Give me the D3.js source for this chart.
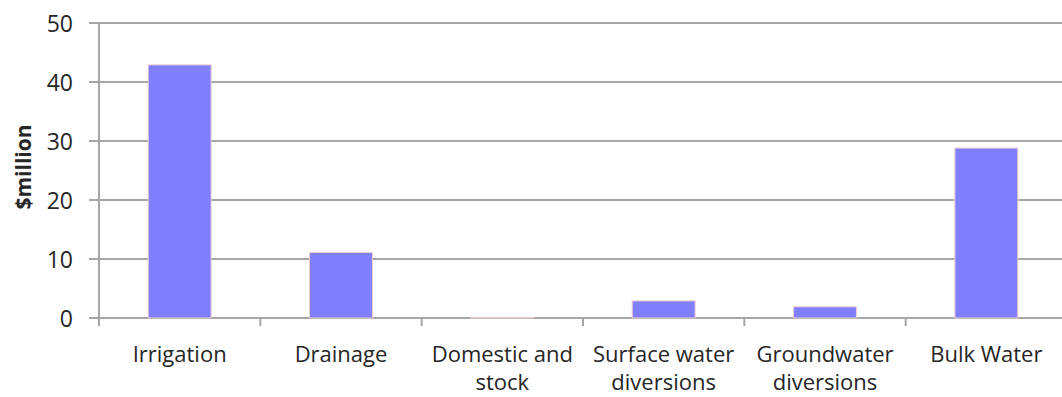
<!DOCTYPE html>
<html>
<head>
<meta charset="utf-8">
<script src="https://cdn.jsdelivr.net/npm/d3@7"></script>
<style>
  html, body { margin: 0; padding: 0; background: #fff; }
  svg { display: block; }
  text { font-family: "Open Sans", sans-serif; fill: #262626; }
</style>
</head>
<body>
<svg id="chart" width="1062" height="397"></svg>
<script>
// Spending by category ($million)
const categories = [
  ["Irrigation"],
  ["Drainage"],
  ["Domestic and", "stock"],
  ["Surface water", "diversions"],
  ["Groundwater", "diversions"],
  ["Bulk Water"]
];
const values = [42.9, 11.1, 0.1, 2.9, 1.9, 28.8];
const yTicks = [0, 10, 20, 30, 40, 50];
const yTitle = "$million";

const svg = d3.select("#chart");
const keys = categories.map((c, i) => i);

const x = d3.scaleBand()
  .domain(keys)
  .range([99, 1067])
  .paddingInner(0.61)
  .paddingOuter(0.305);

const y = d3.scaleLinear().domain([0, 50]).range([318, 23]);

const gap = x.step() * x.paddingInner() / 2;

// horizontal gridlines with left tick stubs
svg.append("g")
  .selectAll("line")
  .data(yTicks)
  .join("line")
  .attr("x1", 89).attr("x2", 1062)
  .attr("y1", d => y(d)).attr("y2", d => y(d))
  .attr("stroke", "#a6a6a6")
  .attr("stroke-width", 2);

// y tick labels
const yAxis = d3.axisLeft(y).tickValues(yTicks).tickSize(0).tickPadding(0);
const gy = svg.append("g").attr("transform", "translate(73,0)").call(yAxis);
gy.select(".domain").remove();
gy.selectAll("text")
  .style("font-family", "'Open Sans', sans-serif")
  .style("font-size", "23px")
  .attr("fill", "#262626")
  .attr("dy", "0.36em");

// bars
svg.append("g")
  .selectAll("rect")
  .data(values)
  .join("rect")
  .attr("x", (d, i) => x(i))
  .attr("width", x.bandwidth())
  .attr("y", d => y(d))
  .attr("height", d => y(0) - y(d))
  .attr("fill", "#8080ff")
  .attr("stroke", "#f2cccc")
  .attr("stroke-width", 1);

// vertical axis line
svg.append("line")
  .attr("x1", 99).attr("x2", 99)
  .attr("y1", y(50) - 1).attr("y2", 326)
  .attr("stroke", "#a6a6a6").attr("stroke-width", 2);

// category boundary ticks below the baseline
const boundary = i => x(i - 1) + x.bandwidth() + gap;
svg.append("g")
  .selectAll("line")
  .data(keys.slice(1).concat([keys.length]))
  .join("line")
  .attr("x1", boundary)
  .attr("x2", boundary)
  .attr("y1", y(0)).attr("y2", 326)
  .attr("stroke", "#a6a6a6").attr("stroke-width", 2);

// category labels
const lab = svg.append("g")
  .selectAll("text")
  .data(categories)
  .join("text")
  .attr("x", (d, i) => x(i) + x.bandwidth() / 2)
  .attr("y", 362)
  .attr("text-anchor", "middle")
  .style("font-size", "22px");
lab.selectAll("tspan")
  .data(d => d)
  .join("tspan")
  .attr("x", function () { return this.parentNode.getAttribute("x"); })
  .attr("dy", (d, j) => j === 0 ? 0 : 28)
  .text(d => d);

// y-axis title
svg.append("text")
  .attr("transform", "translate(31,167) rotate(-90)")
  .attr("text-anchor", "middle")
  .style("font-size", "21px")
  .style("font-weight", "bold")
  .attr("fill", "#000")
  .text(yTitle);
</script>
</body>
</html>
